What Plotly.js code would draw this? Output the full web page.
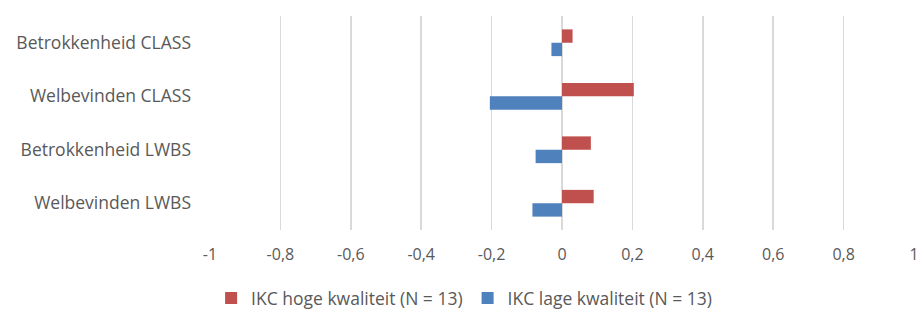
<!DOCTYPE html>
<html><head><meta charset="utf-8">
<script src="https://cdn.plot.ly/plotly-3.0.1.min.js"></script>
<style>html,body{margin:0;padding:0;background:#fff;}#chart{width:919px;height:309px;}</style>
</head><body><div id="chart"></div>
<script>
const categories = ["Betrokkenheid CLASS", "Welbevinden CLASS", "Betrokkenheid LWBS", "Welbevinden LWBS"];
const hogeValues = [0.03, 0.204, 0.082, 0.09];
const lageValues = [-0.03, -0.205, -0.075, -0.084];
const xTickVals = [-1, -0.8, -0.6, -0.4, -0.2, 0, 0.2, 0.4, 0.6, 0.8, 1];
const xTickText = ["-1", "-0,8", "-0,6", "-0,4", "-0,2", "0", "0,2", "0,4", "0,6", "0,8", "1"];
const seriesNames = ["IKC hoge kwaliteit (N = 13)", "IKC lage kwaliteit (N = 13)"];

const fam = "'Open Sans', Lato, sans-serif";
const grey = "#595959";
const data = [
  {type: "bar", orientation: "h", y: categories, x: hogeValues, name: seriesNames[0],
   marker: {color: "#C0504D", line: {color: "#C0504D", width: 0}}},
  {type: "bar", orientation: "h", y: categories, x: lageValues, name: seriesNames[1],
   marker: {color: "#4F81BD", line: {color: "#4F81BD", width: 0}}}
];
const layout = {
  width: 919, height: 309,
  margin: {l: 210, r: 5, t: 16, b: 79},
  paper_bgcolor: "#fff", plot_bgcolor: "#fff",
  font: {family: fam, size: 16, color: grey},
  barmode: "group", bargap: 0.5, bargroupgap: 0,
  showlegend: true,
  legend: {orientation: "h", xref: "container", yref: "container", x: 0.505, xanchor: "center",
           y: 0.035, yanchor: "middle", font: {family: fam, size: 17.5, color: grey},
           itemwidth: 30, traceorder: "normal"},
  xaxis: {range: [-1, 1], tickvals: xTickVals, ticktext: xTickText, showgrid: true,
          gridcolor: "#d9d9d9", gridwidth: 1.5, zeroline: false, showline: false,
          ticks: "", ticklabelstandoff: 13, fixedrange: true,
          tickfont: {family: fam, size: 16, color: grey}},
  yaxis: {type: "category", autorange: "reversed", showgrid: false, zeroline: false,
          showline: false, ticks: "", ticklabelstandoff: 18, fixedrange: true,
          tickfont: {family: fam, size: 17.5, color: grey}}
};
Plotly.newPlot("chart", data, layout, {displayModeBar: false, staticPlot: true});
</script></body></html>
